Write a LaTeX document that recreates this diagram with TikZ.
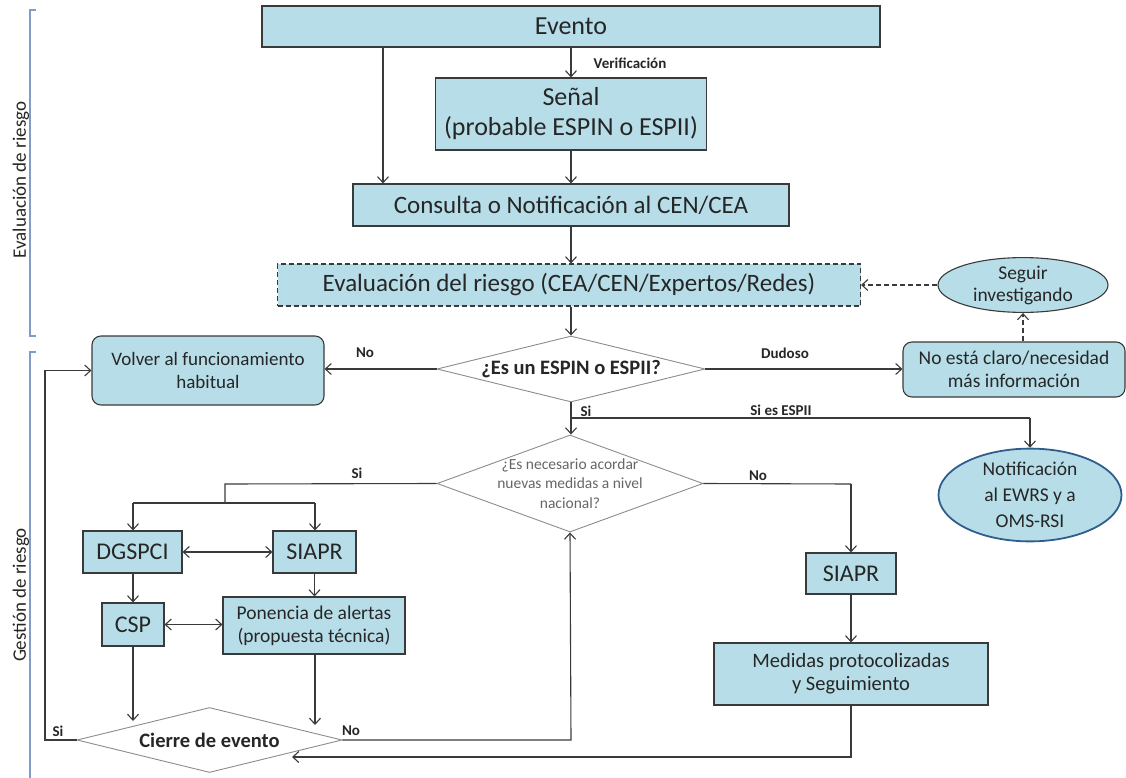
\documentclass[tikz,border=0pt]{standalone}
\usepackage{fontspec}
\setmainfont{Carlito}
\usetikzlibrary{arrows.meta,shapes.geometric,calc}
\definecolor{boxfill}{HTML}{B7DEE8}
\definecolor{boxline}{HTML}{3A3A3A}
\definecolor{txt}{HTML}{262626}
\definecolor{brk}{HTML}{7F9DC9}
\definecolor{ellline}{HTML}{2F5E8E}
\definecolor{dialine}{HTML}{8C8C8C}
\newcommand\fsz[2]{\fontsize{#1}{#2}\selectfont}
\begin{document}
\begin{tikzpicture}[x=1pt,y=-1pt,
  box/.style={draw=boxline, fill=boxfill, line width=1.1pt, inner sep=0pt, align=center, text=txt},
  rbox/.style={box, rounded corners=9pt},
  ell/.style={box, ellipse},
  dia/.style={draw=dialine, fill=white, line width=0.9pt, diamond, inner sep=0pt},
  conn/.style={draw=boxline, line width=1.1pt},
  arr/.style={conn, -{Straight Barb[length=6pt,width=11pt]}},
  darr/.style={conn, {Straight Barb[length=6pt,width=11pt]}-{Straight Barb[length=6pt,width=11pt]}},
  dsh/.style={dash pattern=on 5pt off 3pt},
  lbl/.style={font=\bfseries\fsz{15}{17}, text=txt, inner sep=0pt},
  brack/.style={draw=brk, line width=1.3pt},
]
\useasboundingbox (0,0) rectangle (1126,778);

% brackets
\draw[brack] (36,10) -- (30,10) -- (30,336) -- (36,336);
\draw[brack] (36,352) -- (30,352) -- (30,778);
\node[rotate=90, font=\fsz{19}{22}, text=txt] (lab1) at (21,180) {Evaluación de riesgo};
\node[rotate=90, font=\fsz{19}{22}, text=txt] (lab2) at (21,595) {Gestión de riesgo};

% nodes
\node[box, minimum width=618, minimum height=41, font=\fsz{26}{30}] (evento) at (571,26.5) {Evento};
\node[box, minimum width=271, minimum height=72, font=\fsz{26}{30}] (senal) at (571,114) {Señal\\(probable ESPIN o ESPII)};
\node[box, minimum width=436, minimum height=42, font=\fsz{25}{29}] (consulta) at (571,205) {Consulta o Notificación al CEN/CEA};
\node[box, dsh, minimum width=583, minimum height=42, font=\fsz{25}{29}] (evalr) at (569,285) {Evaluación del riesgo (CEA/CEN/Expertos/Redes)};
\node[ell, minimum width=170, minimum height=46, font=\fsz{19.5}{22}] (seguir) at (1023,285) {Seguir\\investigando};
\node[dia, minimum width=268, minimum height=66] (d1) at (571,369) {};
\node[font=\bfseries\fsz{20.5}{24}, text=txt] (d1t) at (d1) {¿Es un ESPIN o ESPII?};
\node[rbox, minimum width=232, minimum height=69, font=\fsz{19}{23}] (volver) at (208,370.5) {Volver al funcionamiento\\habitual};
\node[rbox, minimum width=222, minimum height=55, font=\fsz{19.5}{23}] (noclaro) at (1014,369.5) {No está claro/necesidad\\más información};
\node[ell, draw=ellline, line width=1.8pt, minimum width=183, minimum height=86, font=\fsz{19.5}{26}] (notif) at (1030,495) {Notificación\\al EWRS y a\\OMS-RSI};
\node[dia, minimum width=266, minimum height=97] (d2) at (570,483.5) {};
\node[font=\fsz{15.5}{19.5}, text=black!60, align=center] (d2t) at (d2) {¿Es necesario acordar\\nuevas medidas a nivel\\nacional?};
\node[box, minimum width=99, minimum height=42, font=\fsz{24}{28}] (dgspci) at (132.5,552) {DGSPCI};
\node[box, minimum width=83, minimum height=42, font=\fsz{24}{28}] (siapr1) at (314.5,552) {SIAPR};
\node[box, minimum width=62, minimum height=43, font=\fsz{24}{28}] (csp) at (133,624.5) {CSP};
\node[box, minimum width=182, minimum height=57, font=\fsz{19.5}{23}] (ponencia) at (314,625.5) {Ponencia de alertas\\(propuesta técnica)};
\node[dia, minimum width=265, minimum height=65] (d3) at (209.5,740) {};
\node[font=\bfseries\fsz{20.5}{24}, text=txt] (d3t) at (d3) {Cierre de evento};
\node[box, minimum width=90, minimum height=41, font=\fsz{24}{28}] (siapr2) at (851,573.5) {SIAPR};
\node[box, minimum width=274, minimum height=62, font=\fsz{20.5}{23}] (medidas) at (851,674) {Medidas protocolizadas\\y Seguimiento};

% helper coordinates
\coordinate (ex) at (383,0);
\coordinate (siline) at (571,418);
\coordinate (sicorner) at (1030,418);
\coordinate (lsplit) at (225,484);
\coordinate (lsplit2) at (225,503);
\coordinate (lbar1) at (133,503);
\coordinate (lbar2) at (315,503);
\coordinate (cspend) at (133,721);
\coordinate (ponend) at (315,725);
\coordinate (sileft) at (45,740);
\coordinate (noright) at (571,740);
\coordinate (nod2) at (851,484);
\coordinate (medcorner) at (851,757);
\coordinate (medend) at (292,757);

% connectors
\draw[arr] (evento.south -| senal.north) -- (senal.north);
\node[lbl] (verif) at (630,63) {Verificación};
\draw[arr] (evento.south -| ex) -- (consulta.north -| ex);
\draw[arr] (senal.south) -- (consulta.north -| senal.south);
\draw[arr] (consulta.south) -- (evalr.north -| consulta.south);
\draw[arr] (evalr.south -| d1.north) -- (d1.north);
\draw[arr, dsh] (seguir.west) -- (evalr.east |- seguir.west);
\draw[arr, dsh] (noclaro.north -| seguir.south) -- (seguir.south);
\draw[arr] (d1.west) -- (volver.east |- d1.west);
\node[lbl] (lno1) at (365,353) {No};
\draw[arr] (d1.east) -- (noclaro.west |- d1.east);
\node[lbl] (ldud) at (785,353) {Dudoso};
\draw[arr] (d1.south) -- (d2.north -| d1.south);
\node[lbl] (lsi1) at (586,411) {Si};
\draw[conn, line width=2pt] (siline) -- (sicorner);
\draw[arr] (sicorner) -- (notif.north -| sicorner);
\node[lbl] (lsiespii) at (781,410) {Si es ESPII};
\draw[conn] (d2.west) -- (lsplit) -- (lsplit2);
\draw[conn] (lbar1) -- (lbar2);
\draw[arr] (lbar1) -- (dgspci.north -| lbar1);
\draw[arr] (lbar2) -- (siapr1.north -| lbar2);
\node[lbl] (lsi2) at (357,473) {Si};
\draw[darr] (dgspci.east) -- (siapr1.west);
\draw[arr] (dgspci.south -| csp.north) -- (csp.north);
\draw[arr] (siapr1.south) -- (ponencia.north -| siapr1.south);
\draw[darr] (csp.east) -- (ponencia.west |- csp.east);
\draw[arr] (csp.south) -- (cspend);
\draw[arr] (ponencia.south -| ponend) -- (ponend);
\draw[arr] (d3.west) -- (sileft) -- (sileft |- volver.west) -- (volver.west);
\node[lbl] (lsi3) at (58,731) {Si};
\draw[arr] (d3.east) -- (noright) -- (d2.south);
\node[lbl] (lno3) at (351,731) {No};
\draw[conn] (d2.east) -- (nod2);
\draw[arr] (nod2) -- (siapr2.north);
\node[lbl] (lno2) at (758,476) {No};
\draw[arr] (siapr2.south) -- (medidas.north);
\draw[arr] (medidas.south) -- (medcorner) -- (medend);
\end{tikzpicture}
\end{document}
